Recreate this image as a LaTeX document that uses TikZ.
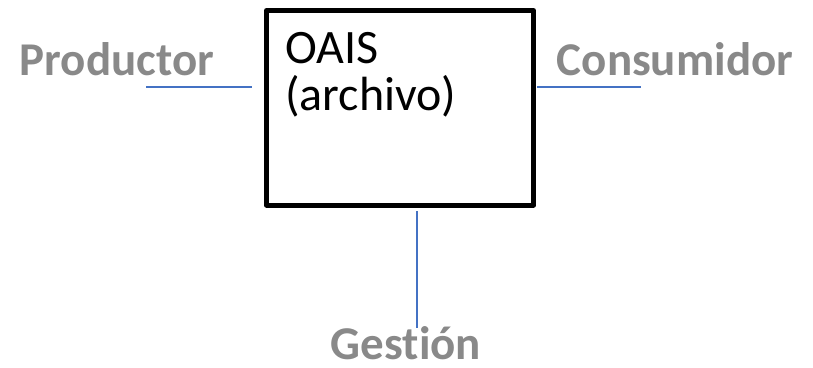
\documentclass[tikz,border=0pt]{standalone}
\usepackage{fontspec}
\setmainfont{Carlito}[Ligatures=NoCommon]
\usetikzlibrary{positioning}
\definecolor{lblgray}{RGB}{137,137,137}
\definecolor{linkblue}{RGB}{68,114,196}
\tikzset{actor/.style={anchor=base, text=lblgray, font=\fontsize{47}{50}\selectfont\bfseries, inner sep=0pt, text depth=0pt},
link/.style={draw=linkblue, line width=1.5pt}}

\begin{document}
\begin{tikzpicture}[x=1pt,y=-1pt]
  \useasboundingbox (0,0) rectangle (813,367);

  % archive box
  \draw[line width=5pt, line join=round] (266.5,10.5) rectangle (533.5,205);
  \node[anchor=base west, inner sep=0pt, align=left, font=\fontsize{48}{47}\selectfont] (oais) at (285,110) {OAIS\\(archivo)};

  % actors
  \node[actor] (prod) at (117,75) {Productor};
  \node[actor] (cons) at (675,75) {Consumidor};
  \node[actor] (gest) at (406,359) {Gest\kern0ptión};

  \coordinate (pl) at (146,87);
  \coordinate (pr) at (252,87);
  \coordinate (cl) at (537,87);
  \coordinate (cr) at (641,87);
  \coordinate (gt) at (417,211);
  \coordinate (gb) at (417,328);

  \draw[link] (pl) -- (pr);
  \draw[link] (cl) -- (cr);
  \draw[link] (gt) -- (gb);
\end{tikzpicture}
\end{document}
